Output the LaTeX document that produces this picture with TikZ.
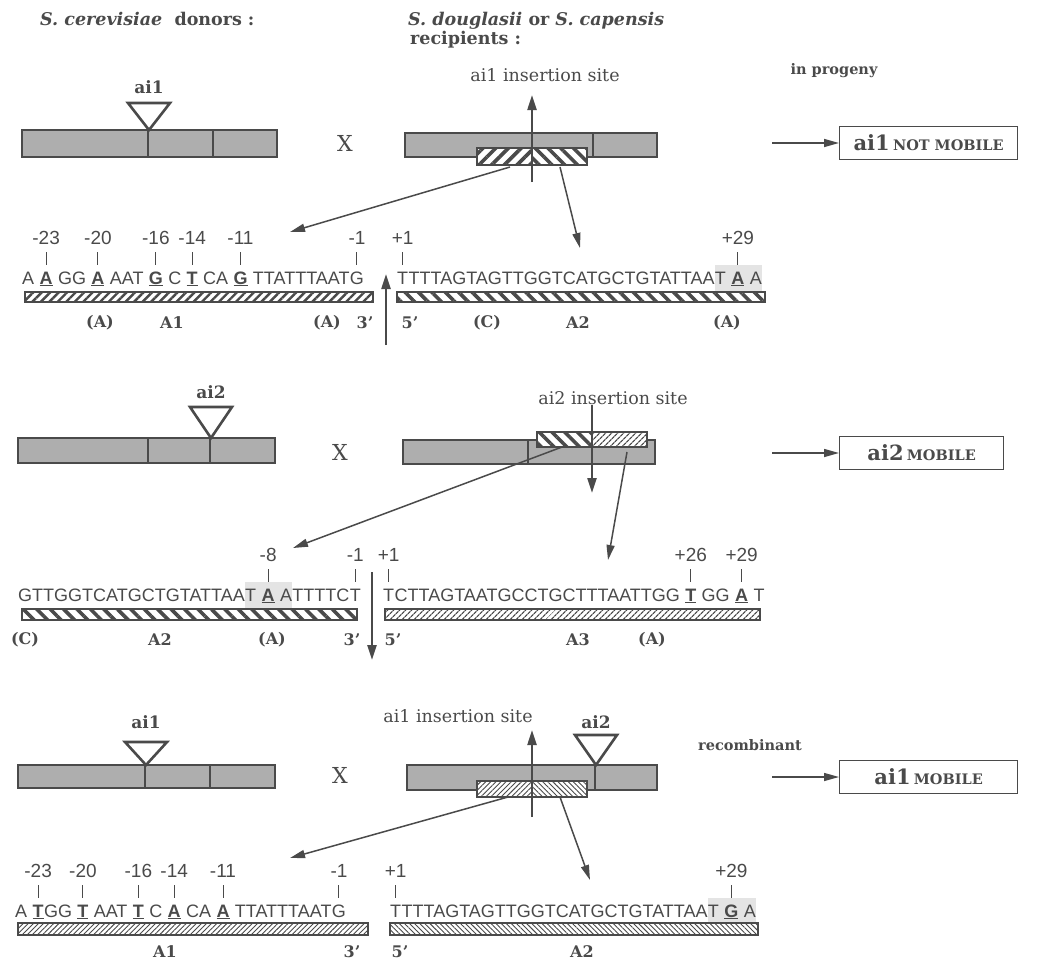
\documentclass[tikz,border=0pt]{standalone}
\usepackage{fontspec}
\setmainfont{DejaVu Serif}
\newfontfamily\seqfont{Liberation Sans}
\usetikzlibrary{arrows.meta,patterns.meta,backgrounds}
\definecolor{ink}{HTML}{4A4A4A}
\definecolor{barfill}{HTML}{AEAEAE}
\definecolor{shadebg}{HTML}{E4E4E4}
\newcommand\BU[1]{\textbf{\underline{#1}}}
\newcommand\SP{\kern0.278em}
\begin{document}
\begin{tikzpicture}[x=1pt,y=-1pt,
 hdr/.style={font=\fontsize{17.5}{20}\selectfont\bfseries, text=ink, inner sep=0, anchor=base west},
 lbl/.style={font=\fontsize{17}{19}\selectfont\bfseries, text=ink, inner sep=0},
 small/.style={font=\fontsize{14.5}{17}\selectfont\bfseries, text=ink, inner sep=0},
 sitelbl/.style={font=\fontsize{17.5}{20}\selectfont, text=ink, inner sep=0},
 cross/.style={font=\fontsize{22}{24}\selectfont, text=ink, inner sep=0},
 bar/.style={draw=ink, line width=2.2pt, fill=barfill},
 divider/.style={draw=ink, line width=2pt},
 tri/.style={draw=ink, line width=2.6pt, fill=white, line join=miter},
 seq/.style={font=\seqfont\fontsize{18}{20}\selectfont, text=ink, inner sep=0, anchor=base west},
 num/.style={font=\seqfont\fontsize{19}{21}\selectfont, text=ink, inner sep=0, anchor=base},
 tick/.style={draw=ink, line width=1pt, shorten <=8pt, shorten >=6pt},
 sub/.style={font=\fontsize{16}{18}\selectfont\bfseries, text=ink, inner sep=0},
 sbar/.style={draw=ink, line width=1.3pt},
 arr/.style={draw=ink, line width=1.5pt, -{Triangle[length=15pt,width=8pt]}},
 varr/.style={draw=ink, line width=2.2pt, -{Triangle[length=15pt,width=9pt]}},
 resbox/.style={draw=ink, line width=1.3pt, text=ink, inner sep=0, minimum height=33pt, anchor=west},
 hAoneK/.style={pattern={Lines[angle=45,distance=6pt,line width=2.4pt]}, pattern color=ink},
 hAtwoK/.style={pattern={Lines[angle=-45,distance=9.5pt,line width=3.6pt]}, pattern color=ink},
 hBoxOne/.style={pattern={Lines[angle=45,distance=9pt,line width=3.6pt]}, pattern color=ink},
 hBoxTwo/.style={pattern={Lines[angle=-45,distance=9pt,line width=3.6pt]}, pattern color=ink},
 hAthree/.style={pattern={Lines[angle=45,distance=4pt,line width=1.3pt]}, pattern color=ink},
 hThinOne/.style={pattern={Lines[angle=45,distance=3.6pt,line width=0.9pt]}, pattern color=ink},
 hThinTwo/.style={pattern={Lines[angle=-45,distance=3.6pt,line width=0.9pt]}, pattern color=ink},
]
\useasboundingbox (0,0) rectangle (1049,962);

% ---------------- headers ----------------
\node[hdr] (h1) at (40,25) {\textit{S. cerevisiae}\ \ donors :};
\node[hdr] (h2) at (408,25) {\textit{S. douglasii}\ or\ \textit{S. capensis}};
\node[hdr] (h3) at (410,44) {recipients\ :};
\node[small] (prog) at (834,71) {in progeny};

% ================= ROW 1 =================
\draw[bar] (22,130) rectangle (277,157);
\draw[divider] (148,130) -- (148,157);
\draw[divider] (213,130) -- (213,157);
\draw[tri] (128,103) -- (170,103) -- (149,130) -- cycle;
\node[lbl] (ai1a) at (149,87) {ai1};
\node[cross] (x1) at (345,143) {X};

\draw[bar] (405,133) rectangle (657,157);
\draw[divider] (593,133) -- (593,157);
\fill[white] (477,148) rectangle (587,165);
\fill[hBoxOne] (477,148) rectangle (532,165);
\fill[hBoxTwo] (532,148) rectangle (587,165);
\draw[sbar] (477,148) rectangle (587,165);
\node[sitelbl] (site1) at (545,75) {ai1 insertion site};
\coordinate (s1low) at (532,182);
\coordinate (s1tip) at (532,95);
\draw[varr] (s1low) -- (s1tip);
\coordinate (h1l) at (510,167);
\coordinate (h1r) at (560,167);
\coordinate (t1l) at (290,232);
\coordinate (t1r) at (580,248);
\draw[arr] (h1l) -- (t1l);
\draw[arr] (h1r) -- (t1r);

\coordinate (p1) at (772,143);
\node[resbox, minimum width=178pt] (res1) at (839,143)
  {\textbf{\fontsize{21}{22}\selectfont ai1}\ \textbf{\fontsize{14.5}{16}\selectfont NOT MOBILE}};
\draw[arr] (p1) -- (res1.west);

% sequence row 1 left
\node[seq] (a1) at (22,284) {A\SP};
\node[seq] (a2) at (a1.base east) {\BU{A}};
\node[seq] (a3) at (a2.base east) {\SP GG\SP};
\node[seq] (a4) at (a3.base east) {\BU{A}};
\node[seq] (a5) at (a4.base east) {\SP AAT\SP};
\node[seq] (a6) at (a5.base east) {\BU{G}};
\node[seq] (a7) at (a6.base east) {\SP C\SP};
\node[seq] (a8) at (a7.base east) {\BU{T}};
\node[seq] (a9) at (a8.base east) {\SP CA\SP};
\node[seq] (a10) at (a9.base east) {\BU{G}};
\node[seq] (a11) at (a10.base east) {\SP TTATTTAAT};
\node[seq] (a12) at (a11.base east) {G};
% right
\node[seq] (b1) at (397,284) {T};
\node[seq] (b2) at (b1.base east) {TTTAGTAGTTGGTCATGCTGTATTAA};
\node[seq] (b3) at (b2.base east) {T\SP};
\node[seq] (b4) at (b3.base east) {\BU{A}};
\node[seq] (b5) at (b4.base east) {\SP A};
\begin{pgfonlayer}{background}
\fill[shadebg] (b3.west |- 0,265) rectangle (b5.east |- 0,291);
\end{pgfonlayer}
\foreach \nd/\tx/\nm in {a2/-23/na1,a4/-20/na2,a6/-16/na3,a8/-14/na4,a10/-11/na5,a12/-1/na6,b1/+1/nb1,b4/+29/nb2}{
  \node[num] (\nm) at (\nd.base |- 0,244) {\tx};
  \draw[tick] (\nm.south) -- (\nd.north);
}
\fill[white] (25,292) rectangle (373,302);
\fill[hAoneK] (25,292) rectangle (373,302);
\draw[sbar] (25,292) rectangle (373,302);
\fill[white] (397,292) rectangle (765,302);
\fill[hAtwoK] (397,292) rectangle (765,302);
\draw[sbar] (397,292) rectangle (765,302);
\node[sub] (l11) at (100,323) {(A)};
\node[sub] (l12) at (172,323) {A1};
\node[sub] (l13) at (327,323) {(A)};
\node[sub] (l14) at (365,323) {3'};
\node[sub] (l15) at (410,323) {5'};
\node[sub] (l16) at (487,323) {(C)};
\node[sub] (l17) at (578,323) {A2};
\node[sub] (l18) at (727,323) {(A)};
\coordinate (j1low) at (386,345);
\coordinate (j1tip) at (386,274);
\draw[varr] (j1low) -- (j1tip);

% ================= ROW 2 =================
\draw[bar] (18,438) rectangle (275,463);
\draw[divider] (148,438) -- (148,463);
\draw[divider] (210,438) -- (210,463);
\draw[tri] (190,407) -- (232,407) -- (211,438) -- cycle;
\node[lbl] (ai2a) at (211,392) {ai2};
\node[cross] (x2) at (340,452) {X};

\draw[bar] (403,440) rectangle (655,464);
\draw[divider] (528,440) -- (528,464);
\fill[white] (537,432) rectangle (647,447);
\fill[hBoxTwo] (537,432) rectangle (592,447);
\fill[hAthree] (592,432) rectangle (647,447);
\draw[sbar] (537,432) rectangle (647,447);
\node[sitelbl] (site2) at (613,398) {ai2 insertion site};
\coordinate (s2tip) at (592,493);
\draw[varr] (site2.south -| s2tip) -- (s2tip);
\coordinate (h2l) at (562,447);
\coordinate (h2r) at (627,452);
\coordinate (t2l) at (293,548);
\coordinate (t2r) at (608,560);
\draw[arr] (h2l) -- (t2l);
\draw[arr] (h2r) -- (t2r);

\coordinate (p2) at (772,453);
\node[resbox, minimum width=164pt] (res2) at (839,453)
  {\textbf{\fontsize{21}{22}\selectfont ai2}\ \textbf{\fontsize{14.5}{16}\selectfont MOBILE}};
\draw[arr] (p2) -- (res2.west);

% sequence row 2 left
\node[seq] (c1) at (18,601) {GTTGGTCATGCTGTATTAA};
\node[seq] (c2) at (c1.base east) {T\SP};
\node[seq] (c3) at (c2.base east) {\BU{A}};
\node[seq] (c4) at (c3.base east) {\SP A};
\node[seq] (c5) at (c4.base east) {TTTTC};
\node[seq] (c6) at (c5.base east) {T};
% right
\node[seq] (d1) at (383,601) {T};
\node[seq] (d2) at (d1.base east) {CTTAGTAATGCCTGCTTTAATTGG\SP};
\node[seq] (d3) at (d2.base east) {\BU{T}};
\node[seq] (d4) at (d3.base east) {\SP GG\SP};
\node[seq] (d5) at (d4.base east) {\BU{A}};
\node[seq] (d6) at (d5.base east) {\SP T};
\begin{pgfonlayer}{background}
\fill[shadebg] (c2.west |- 0,582) rectangle (c4.east |- 0,608);
\end{pgfonlayer}
\foreach \nd/\tx/\nm in {c3/-8/nc1,c6/-1/nc2,d1/+1/nd1,d3/+26/nd2,d5/+29/nd3}{
  \node[num] (\nm) at (\nd.base |- 0,561) {\tx};
  \draw[tick] (\nm.south) -- (\nd.north);
}
\fill[white] (22,609) rectangle (357,620);
\fill[hAtwoK] (22,609) rectangle (357,620);
\draw[sbar] (22,609) rectangle (357,620);
\fill[white] (385,609) rectangle (760,620);
\fill[hAthree] (385,609) rectangle (760,620);
\draw[sbar] (385,609) rectangle (760,620);
\node[sub] (l21) at (25,640) {(C)};
\node[sub] (l22) at (160,640) {A2};
\node[sub] (l23) at (272,640) {(A)};
\node[sub] (l24) at (352,640) {3'};
\node[sub] (l25) at (393,640) {5'};
\node[sub] (l26) at (578,640) {A3};
\node[sub] (l27) at (652,640) {(A)};
\coordinate (j2top) at (372,572);
\coordinate (j2tip) at (372,660);
\draw[varr] (j2top) -- (j2tip);

% ================= ROW 3 =================
\draw[bar] (18,765) rectangle (275,788);
\draw[divider] (145,765) -- (145,788);
\draw[divider] (210,765) -- (210,788);
\draw[tri] (125,742) -- (167,742) -- (146,765) -- cycle;
\node[lbl] (ai1b) at (146,722) {ai1};
\node[cross] (x3) at (340,775) {X};

\draw[bar] (407,765) rectangle (657,790);
\draw[divider] (532,765) -- (532,790);
\draw[divider] (595,765) -- (595,790);
\draw[tri] (575,735) -- (617,735) -- (596,765) -- cycle;
\node[lbl] (ai2b) at (596,722) {ai2};
\fill[white] (477,781) rectangle (587,797);
\fill[hThinOne] (477,781) rectangle (532,797);
\fill[hThinTwo] (532,781) rectangle (587,797);
\draw[sbar] (477,781) rectangle (587,797);
\node[sitelbl] (site3) at (458,716) {ai1 insertion site};
\coordinate (s3low) at (532,817);
\coordinate (s3tip) at (532,730);
\draw[varr] (s3low) -- (s3tip);
\coordinate (h3l) at (508,797);
\coordinate (h3r) at (560,797);
\coordinate (t3l) at (290,858);
\coordinate (t3r) at (590,880);
\draw[arr] (h3l) -- (t3l);
\draw[arr] (h3r) -- (t3r);
\node[small] (recomb) at (750,745) {recombinant};

\coordinate (p3) at (772,777);
\node[resbox, minimum width=178pt] (res3) at (839,777)
  {\textbf{\fontsize{21}{22}\selectfont ai1}\ \textbf{\fontsize{14.5}{16}\selectfont MOBILE}};
\draw[arr] (p3) -- (res3.west);

% sequence row 3 left
\node[seq] (e1) at (15,917) {A\SP};
\node[seq] (e2) at (e1.base east) {\BU{T}};
\node[seq] (e3) at (e2.base east) {GG\SP};
\node[seq] (e4) at (e3.base east) {\BU{T}};
\node[seq] (e5) at (e4.base east) {\SP AAT\SP};
\node[seq] (e6) at (e5.base east) {\BU{T}};
\node[seq] (e7) at (e6.base east) {\SP C\SP};
\node[seq] (e8) at (e7.base east) {\BU{A}};
\node[seq] (e9) at (e8.base east) {\SP CA\SP};
\node[seq] (e10) at (e9.base east) {\BU{A}};
\node[seq] (e11) at (e10.base east) {\SP TTATTTAAT};
\node[seq] (e12) at (e11.base east) {G};
% right
\node[seq] (f1) at (390,917) {T};
\node[seq] (f2) at (f1.base east) {TTTAGTAGTTGGTCATGCTGTATTAA};
\node[seq] (f3) at (f2.base east) {T\SP};
\node[seq] (f4) at (f3.base east) {\BU{G}};
\node[seq] (f5) at (f4.base east) {\SP A};
\begin{pgfonlayer}{background}
\fill[shadebg] (f3.west |- 0,898) rectangle (f5.east |- 0,922);
\end{pgfonlayer}
\foreach \nd/\tx/\nm in {e2/-23/ne1,e4/-20/ne2,e6/-16/ne3,e8/-14/ne4,e10/-11/ne5,e12/-1/ne6,f1/+1/nf1,f4/+29/nf2}{
  \node[num] (\nm) at (\nd.base |- 0,877) {\tx};
  \draw[tick] (\nm.south) -- (\nd.north);
}
\fill[white] (18,923) rectangle (368,935);
\fill[hThinOne] (18,923) rectangle (368,935);
\draw[sbar] (18,923) rectangle (368,935);
\fill[white] (390,923) rectangle (758,935);
\fill[hThinTwo] (390,923) rectangle (758,935);
\draw[sbar] (390,923) rectangle (758,935);
\node[sub] (l31) at (165,952) {A1};
\node[sub] (l32) at (352,952) {3'};
\node[sub] (l33) at (400,952) {5'};
\node[sub] (l34) at (582,952) {A2};
\end{tikzpicture}
\end{document}
